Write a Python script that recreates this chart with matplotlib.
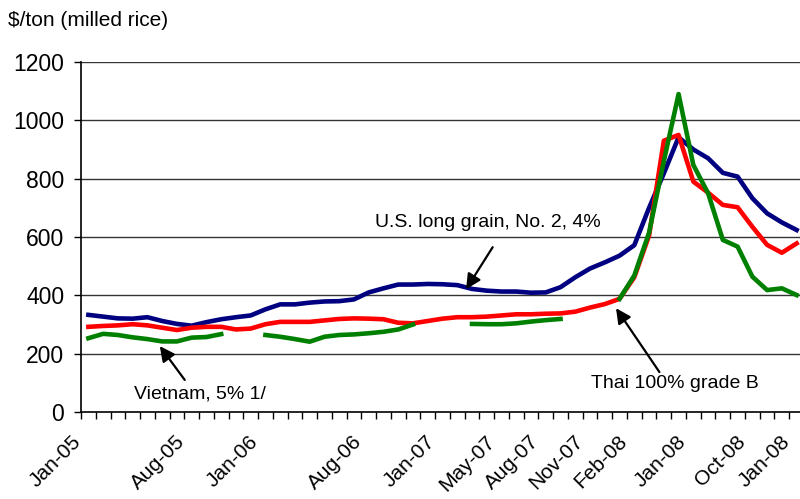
import numpy as np
import matplotlib
matplotlib.use("Agg")
import matplotlib.pyplot as plt
from matplotlib.transforms import ScaledTranslation

plt.rcParams['font.family'] = ['Liberation Sans', 'DejaVu Sans']

# monthly export prices, Jan-05 .. Jan-09 ($/ton, milled rice)
us_long_grain = [333, 327, 321, 320, 325, 312, 302, 296, 308, 318, 325, 331,
                 352, 369, 369, 375, 379, 380, 386, 410, 424, 437, 437, 439,
                 438, 435, 422, 416, 413, 413, 409, 410, 428, 462, 492, 513,
                 536, 572, 700, 818, 942, 900, 870, 820, 807, 733, 681, 650,
                 624]
thai_100b = [292, 295, 297, 301, 297, 289, 281, 289, 292, 292, 283, 286,
             301, 309, 309, 309, 314, 319, 321, 320, 318, 306, 304, 312,
             320, 325, 325, 327, 331, 335, 335, 337, 338, 344, 358, 370,
             388, 462, 605, 930, 950, 790, 752, 710, 702, 635, 573, 546,
             578]
nan = np.nan
vietnam_5 = [253, 268, 264, 256, 250, 242, 242, 255, 257, 267, nan, nan,
             264, 258, 250, 241, 258, 264, 266, 270, 275, 283, 300, nan,
             nan, nan, 302, 301, 301, 304, 310, 315, 319, nan, nan, nan,
             388, 468, 615, 860, 1090, 847, 750, 590, 567, 464, 418, 424,
             401]

tick_pos = [0, 7, 12, 19, 24, 28, 31, 34, 37, 41, 45, 48]
tick_labels = ['Jan-05', 'Aug-05', 'Jan-06', 'Aug-06', 'Jan-07', 'May-07',
               'Aug-07', 'Nov-07', 'Feb-08', 'Jan-08', 'Oct-08', 'Jan-08']

months = np.arange(len(us_long_grain))

fig = plt.figure(figsize=(8, 4.99), dpi=100)
ax = fig.add_axes([81/800, 87/499, 723/800, 350/499])

ax.plot(months, us_long_grain, color='#000080', lw=3.3)
ax.plot(months, thai_100b, color='#ff0000', lw=3.3)
ax.plot(months, vietnam_5, color='#008000', lw=3.3)

ax.set_xlim(-0.5, len(months) - 0.5)
ax.set_ylim(0, 1200)
ax.set_yticks(np.arange(0, 1201, 200))
for yv in np.arange(200, 1201, 200):
    ax.axhline(yv, color='#333333', lw=1, zorder=0)

ax.spines['top'].set_visible(False)
ax.spines['right'].set_visible(False)
ax.spines['left'].set_linewidth(1.2)
ax.spines['bottom'].set_linewidth(1.2)

ax.set_xticks(np.arange(-0.5, len(months), 1), minor=True)
ax.set_xticks(tick_pos)
ax.set_xticklabels(tick_labels, rotation=45, ha='right', va='center',
                   rotation_mode='anchor', fontsize=15)
ax.tick_params(axis='x', which='major', length=0, pad=19)
ax.tick_params(axis='x', which='minor', length=5, width=1, direction='out')
ax.tick_params(axis='y', length=5, width=1, labelsize=16.5, pad=7)
offset = ScaledTranslation(-10/100, 0, fig.dpi_scale_trans)
for lbl in ax.get_xticklabels():
    lbl.set_transform(lbl.get_transform() + offset)

fig.text(8/800, 1 - 20/499, '\\$/ton (milled rice)', fontsize=15,
         ha='left', va='center')

arrow = dict(arrowstyle='-|>,head_length=0.9,head_width=0.45',
             color='black', lw=1.6, shrinkA=0, shrinkB=0)
ax.annotate('', xy=(25.6, 421), xytext=(27.4, 565), arrowprops=arrow)
ax.annotate('', xy=(4.84, 226), xytext=(6.53, 110), arrowprops=arrow)
ax.annotate('', xy=(35.76, 356), xytext=(38.7, 137), arrowprops=arrow)

ax.text(27.06, 648, 'U.S. long grain, No. 2, 4%', fontsize=14,
        ha='center', va='center')
ax.text(7.55, 62, 'Vietnam, 5% 1/', fontsize=14, ha='center', va='center')
ax.text(39.74, 99, 'Thai 100% grade B', fontsize=14, ha='center', va='center')

fig.savefig('out.png', dpi=100)
